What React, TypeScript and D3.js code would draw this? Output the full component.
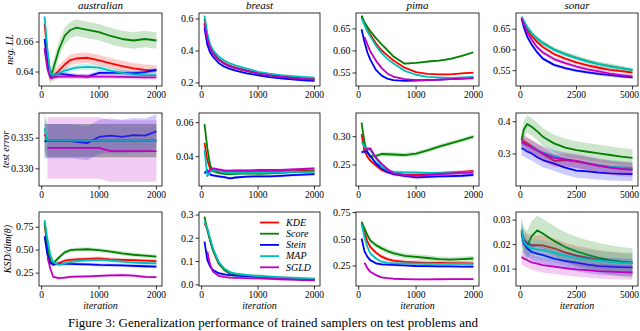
import React from 'react'
import * as d3 from 'd3'

// series order: KDE, Score, Stein, MAP, SGLD
const seriesNames = ['KDE', 'Score', 'Stein', 'MAP', 'SGLD']
const seriesColors = ['#ff0000', '#008000', '#0000ff', '#00bfbf', '#bf00bf']
const datasets = ['australian', 'breast', 'pima', 'sonar']
const metrics = ['neg. LL', 'test error', 'KSD/dim(θ)']

const iters2k = [50, 100, 150, 200, 300, 400, 500, 600, 800, 1000, 1200, 1400, 1600, 1800, 2000]
const iters5k = [50, 150, 300, 500, 750, 1000, 1500, 2000, 2500, 3000, 3500, 4000, 4500, 5000]
const xLim2k = [-47.5, 2097.5]
const xLim5k = [-197.5, 5247.5]
const xTicks2k = [0, 1000, 2000]
const xTicks5k = [0, 2500, 5000]

// ---- neg. LL
const ausLL = [
  [0.672, 0.652, 0.639, 0.637, 0.641, 0.645, 0.648, 0.6490, 0.6495, 0.6478, 0.6458, 0.6440, 0.6425, 0.6415, 0.641],
  [0.655, 0.645, 0.637, 0.642, 0.655, 0.664, 0.668, 0.6695, 0.668, 0.6665, 0.664, 0.662, 0.661, 0.662, 0.661],
  [0.662, 0.646, 0.6375, 0.6375, 0.639, 0.6385, 0.638, 0.6375, 0.637, 0.6395, 0.6395, 0.6395, 0.6392, 0.640, 0.6415],
  [0.677, 0.655, 0.639, 0.6375, 0.639, 0.641, 0.642, 0.643, 0.6435, 0.643, 0.641, 0.6395, 0.6385, 0.638, 0.638],
  [0.656, 0.642, 0.636, 0.6365, 0.637, 0.637, 0.637, 0.637, 0.637, 0.637, 0.637, 0.6368, 0.6366, 0.6365, 0.6365],
]
const ausLLSpread = [0.0035, 0.0055, 0.0015, 0.002, 0.0015]
const ausLLLim = [0.6307, 0.6793]
const ausLLTicks = [0.64, 0.66]

const breastLL = [
  [0.6, 0.49, 0.425, 0.39, 0.35, 0.325, 0.308, 0.296, 0.278, 0.262, 0.25, 0.241, 0.235, 0.229, 0.226],
  [0.575, 0.48, 0.42, 0.385, 0.345, 0.32, 0.304, 0.292, 0.274, 0.259, 0.248, 0.239, 0.232, 0.227, 0.223],
  [0.543, 0.44, 0.39, 0.364, 0.325, 0.302, 0.288, 0.277, 0.26, 0.248, 0.237, 0.229, 0.222, 0.217, 0.213],
  [0.621, 0.51, 0.44, 0.406, 0.365, 0.34, 0.322, 0.31, 0.29, 0.27, 0.258, 0.249, 0.243, 0.238, 0.234],
  [0.57, 0.475, 0.42, 0.385, 0.345, 0.32, 0.305, 0.293, 0.275, 0.26, 0.248, 0.239, 0.232, 0.226, 0.221],
]
const breastLLSpread = [0.005, 0.005, 0.005, 0.006, 0.005]
const breastLLLim = [0.181, 0.6375]
const breastLLTicks = [0.2, 0.4, 0.6]

const pimaLL = [
  [0.677, 0.662, 0.648, 0.637, 0.617, 0.601, 0.59, 0.579, 0.562, 0.552, 0.548, 0.547, 0.547, 0.549, 0.551],
  [0.68, 0.665, 0.655, 0.645, 0.629, 0.615, 0.602, 0.588, 0.571, 0.573, 0.576, 0.578, 0.582, 0.589, 0.597],
  [0.649, 0.62, 0.597, 0.581, 0.557, 0.544, 0.537, 0.534, 0.532, 0.533, 0.534, 0.535, 0.536, 0.537, 0.539],
  [0.674, 0.659, 0.645, 0.633, 0.612, 0.595, 0.582, 0.572, 0.555, 0.546, 0.541, 0.54, 0.539, 0.54, 0.541],
  [null, 0.632, 0.615, 0.6, 0.578, 0.561, 0.549, 0.542, 0.536, 0.534, 0.534, 0.535, 0.536, 0.537, 0.538],
]
const pimaLLSpread = [0.0015, 0.002, 0.0012, 0.0015, 0.0012]
const pimaLLLim = [0.5205, 0.686]
const pimaLLTicks = [0.55, 0.6, 0.65]

const sonarLL = [
  [0.678, 0.666, 0.65, 0.634, 0.619, 0.607, 0.59, 0.579, 0.57, 0.563, 0.557, 0.552, 0.549, 0.545],
  [0.679, 0.669, 0.654, 0.64, 0.627, 0.617, 0.601, 0.59, 0.581, 0.573, 0.566, 0.561, 0.556, 0.551],
  [0.675, 0.655, 0.632, 0.613, 0.594, 0.579, 0.564, 0.556, 0.55, 0.546, 0.542, 0.539, 0.536, 0.534],
  [0.68, 0.67, 0.655, 0.64, 0.627, 0.616, 0.6, 0.589, 0.58, 0.572, 0.566, 0.56, 0.556, 0.552],
  [0.677, 0.662, 0.642, 0.625, 0.606, 0.594, 0.578, 0.568, 0.56, 0.553, 0.548, 0.543, 0.539, 0.536],
]
const sonarLLSpread = [0.004, 0.006, 0.004, 0.004, 0.005]
const sonarLLLim = [0.513, 0.689]
const sonarLLTicks = [0.55, 0.6, 0.65]

// ---- test error
const ausErr = [
  [0.3357, 0.3346, 0.3346, 0.3346, 0.3346, 0.3346, 0.3346, 0.3346, 0.3346, 0.3346, 0.3346, 0.3346, 0.3346, 0.3346, 0.3346],
  [0.3346, 0.3346, 0.3346, 0.3346, 0.3346, 0.3346, 0.3346, 0.3346, 0.3346, 0.3346, 0.3346, 0.3346, 0.3346, 0.3346, 0.3346],
  [0.3345, 0.3345, 0.3345, 0.3345, 0.3345, 0.3345, 0.3345, 0.3344, 0.3342, 0.3352, 0.3354, 0.3352, 0.3355, 0.3354, 0.3361],
  [0.3366, 0.3346, 0.3346, 0.3346, 0.3346, 0.3346, 0.3346, 0.3346, 0.3346, 0.3346, 0.3346, 0.3346, 0.3346, 0.3346, 0.3346],
  [null, 0.3334, 0.3334, 0.3334, 0.3334, 0.3334, 0.3334, 0.3334, 0.3334, 0.3334, 0.3329, 0.3329, 0.3329, 0.3329, 0.3329],
]
const ausErrSpread = [0.0027, 0.0027, 0.0028, 0.0027, 0.005]
const ausErrLim = [0.3272, 0.3391]
const ausErrTicks = [0.33, 0.335]

const breastErr = [
  [0.0482, 0.038, 0.033, 0.032, 0.0315, 0.0312, 0.031, 0.031, 0.0312, 0.0312, 0.0313, 0.0315, 0.0316, 0.0318, 0.032],
  [0.0592, 0.045, 0.035, 0.0315, 0.0305, 0.03, 0.0298, 0.03, 0.0302, 0.03, 0.0302, 0.0305, 0.031, 0.0312, 0.0314],
  [0.0302, 0.0322, 0.0295, 0.029, 0.0285, 0.028, 0.0273, 0.0278, 0.0283, 0.0285, 0.0285, 0.0288, 0.0292, 0.0295, 0.0298],
  [0.0439, 0.0286, 0.031, 0.0322, 0.0315, 0.0308, 0.0305, 0.0305, 0.0306, 0.0306, 0.0307, 0.0308, 0.0312, 0.031, 0.0312],
  [null, 0.031, 0.0322, 0.0331, 0.0325, 0.032, 0.0318, 0.032, 0.032, 0.0322, 0.0322, 0.0322, 0.0325, 0.0328, 0.0331],
]
const breastErrSpread = [0.0008, 0.0009, 0.0008, 0.0008, 0.0008]
const breastErrLim = [0.0228, 0.0657]
const breastErrTicks = [0.04, 0.06]

const pimaErr = [
  [0.3047, 0.275, 0.2647, 0.258, 0.249, 0.2412, 0.237, 0.235, 0.2324, 0.233, 0.234, 0.235, 0.2365, 0.238, 0.2395],
  [0.3247, 0.29, 0.272, 0.265, 0.266, 0.2694, 0.269, 0.2685, 0.2676, 0.27, 0.276, 0.2824, 0.2882, 0.294, 0.3],
  [0.2724, 0.274, 0.2735, 0.266, 0.253, 0.244, 0.238, 0.234, 0.2306, 0.2282, 0.229, 0.23, 0.2305, 0.231, 0.2324],
  [0.291, 0.283, 0.279, 0.2765, 0.262, 0.247, 0.241, 0.238, 0.237, 0.237, 0.236, 0.236, 0.237, 0.237, 0.238],
  [null, 0.2765, 0.278, 0.2794, 0.263, 0.252, 0.243, 0.2353, 0.232, 0.2306, 0.232, 0.234, 0.235, 0.236, 0.2365],
]
const pimaErrSpread = [0.003, 0.004, 0.003, 0.003, 0.003]
const pimaErrLim = [0.2129, 0.3418]
const pimaErrTicks = [0.25, 0.3]

const sonarErr = [
  [0.345, 0.34, 0.333, 0.325, 0.313, 0.3, 0.279, 0.281, 0.276, 0.27, 0.263, 0.259, 0.256, 0.2535],
  [0.343, 0.375, 0.3928, 0.3845, 0.37, 0.3536, 0.333, 0.32, 0.3124, 0.307, 0.302, 0.297, 0.292, 0.288],
  [0.3175, 0.315, 0.308, 0.302, 0.29, 0.2814, 0.27, 0.258, 0.2484, 0.246, 0.2423, 0.24, 0.239, 0.2381],
  [0.333, 0.331, 0.327, 0.3227, 0.313, 0.305, 0.294, 0.285, 0.278, 0.272, 0.266, 0.262, 0.259, 0.257],
  [0.338, 0.333, 0.328, 0.32, 0.31, 0.302, 0.288, 0.283, 0.279, 0.271, 0.264, 0.258, 0.253, 0.251],
]
const sonarErrSpread = [0.02, 0.027, 0.022, 0.02, 0.022]
const sonarErrLim = [0.201, 0.427]
const sonarErrTicks = [0.3, 0.4]

// ---- KSD/dim
const ausKSD = [
  [0.78, 0.55, 0.38, 0.34, 0.36, 0.385, 0.395, 0.4, 0.405, 0.41, 0.4, 0.395, 0.39, 0.385, 0.38],
  [0.8, 0.55, 0.38, 0.356, 0.42, 0.475, 0.5, 0.505, 0.51, 0.5, 0.485, 0.465, 0.45, 0.44, 0.43],
  [0.65, 0.45, 0.357, 0.35, 0.35, 0.35, 0.35, 0.348, 0.345, 0.34, 0.338, 0.335, 0.33, 0.325, 0.32],
  [0.827, 0.62, 0.45, 0.37, 0.34, 0.355, 0.37, 0.38, 0.39, 0.394, 0.385, 0.375, 0.365, 0.36, 0.357],
  [null, 0.42, 0.3, 0.21, 0.195, 0.2, 0.21, 0.212, 0.215, 0.22, 0.225, 0.228, 0.222, 0.21, 0.206],
]
const ausKSDSpread = [0.02, 0.022, 0.018, 0.018, 0.015]
const ausKSDLim = [0.11, 0.915]
const ausKSDTicks = [0.25, 0.5, 0.75]

const breastKSD = [
  [0.264, 0.24, 0.19, 0.148, 0.092, 0.064, 0.05, 0.044, 0.039, 0.035, 0.032, 0.03, 0.028, 0.026, 0.024],
  [0.293, 0.236, 0.19, 0.15, 0.093, 0.065, 0.05, 0.045, 0.04, 0.036, 0.033, 0.03, 0.028, 0.026, 0.024],
  [0.186, 0.107, 0.078, 0.064, 0.05, 0.045, 0.042, 0.04, 0.038, 0.036, 0.033, 0.03, 0.027, 0.024, 0.021],
  [0.271, 0.243, 0.2, 0.157, 0.1, 0.07, 0.055, 0.048, 0.042, 0.038, 0.035, 0.032, 0.03, 0.028, 0.026],
  [null, 0.143, 0.086, 0.057, 0.039, 0.034, 0.031, 0.03, 0.029, 0.028, 0.026, 0.024, 0.022, 0.02, 0.019],
]
const breastKSDSpread = [0.006, 0.008, 0.005, 0.006, 0.005]
const breastKSDLim = [-0.005, 0.313]
const breastKSDTicks = [0, 0.1, 0.2, 0.3]

const pimaKSD = [
  [0.648, 0.56, 0.48, 0.43, 0.375, 0.337, 0.315, 0.3, 0.288, 0.284, 0.28, 0.278, 0.277, 0.276, 0.275],
  [0.663, 0.6, 0.54, 0.49, 0.445, 0.415, 0.39, 0.37, 0.345, 0.335, 0.325, 0.315, 0.31, 0.315, 0.32],
  [0.507, 0.39, 0.337, 0.305, 0.275, 0.265, 0.262, 0.26, 0.255, 0.25, 0.248, 0.247, 0.246, 0.245, 0.244],
  [0.64, 0.52, 0.43, 0.37, 0.32, 0.29, 0.28, 0.276, 0.274, 0.272, 0.271, 0.27, 0.27, 0.27, 0.27],
  [null, 0.281, 0.23, 0.197, 0.165, 0.144, 0.136, 0.131, 0.128, 0.125, 0.125, 0.126, 0.127, 0.128, 0.128],
]
const pimaKSDSpread = [0.02, 0.025, 0.012, 0.012, 0.008]
const pimaKSDLim = [0.063, 0.755]
const pimaKSDTicks = [0.25, 0.5, 0.75]

const sonarKSD = [
  [0.0252, 0.022, 0.0205, 0.0197, 0.0198, 0.0197, 0.0185, 0.0168, 0.0155, 0.0146, 0.0138, 0.0132, 0.0128, 0.0126],
  [0.0255, 0.021, 0.0195, 0.0235, 0.0258, 0.0245, 0.0215, 0.019, 0.0172, 0.0158, 0.0146, 0.0137, 0.013, 0.0125],
  [0.0246, 0.0205, 0.0185, 0.017, 0.0163, 0.0157, 0.0143, 0.0133, 0.0126, 0.0118, 0.0112, 0.011, 0.0108, 0.0107],
  [0.0262, 0.021, 0.0195, 0.0184, 0.018, 0.0177, 0.0166, 0.0155, 0.0146, 0.014, 0.0134, 0.013, 0.0126, 0.0123],
  [0.015, 0.0143, 0.0137, 0.0127, 0.0122, 0.0116, 0.011, 0.0104, 0.0099, 0.0096, 0.0092, 0.009, 0.0088, 0.0086],
]
const sonarKSDSpread = [0.004, 0.006, 0.0035, 0.004, 0.003]
const sonarKSDLim = [0.0031, 0.0333]
const sonarKSDTicks = [0.01, 0.02, 0.03]

const caption = 'Figure 3: Generalization performance of trained samplers on test problems and'

// panel grid (pixels)
const colLeft = [39, 199, 356, 516]
const colRight = [162, 320, 479, 638]
const rowTop = [13, 113, 212]
const rowBottom = [86, 186, 286]

type Panel = {
  x: number[]; mean: (number | null)[][]; spread: number[]
  xLim: number[]; yLim: number[]; xTicks: number[]; yTicks: number[]; fmt: string
}

const panels: Panel[][] = [
  [
    { x: iters2k, mean: ausLL, spread: ausLLSpread, xLim: xLim2k, yLim: ausLLLim, xTicks: xTicks2k, yTicks: ausLLTicks, fmt: '.2f' },
    { x: iters2k, mean: breastLL, spread: breastLLSpread, xLim: xLim2k, yLim: breastLLLim, xTicks: xTicks2k, yTicks: breastLLTicks, fmt: '.1f' },
    { x: iters2k, mean: pimaLL, spread: pimaLLSpread, xLim: xLim2k, yLim: pimaLLLim, xTicks: xTicks2k, yTicks: pimaLLTicks, fmt: '.2f' },
    { x: iters5k, mean: sonarLL, spread: sonarLLSpread, xLim: xLim5k, yLim: sonarLLLim, xTicks: xTicks5k, yTicks: sonarLLTicks, fmt: '.2f' },
  ],
  [
    { x: iters2k, mean: ausErr, spread: ausErrSpread, xLim: xLim2k, yLim: ausErrLim, xTicks: xTicks2k, yTicks: ausErrTicks, fmt: '.3f' },
    { x: iters2k, mean: breastErr, spread: breastErrSpread, xLim: xLim2k, yLim: breastErrLim, xTicks: xTicks2k, yTicks: breastErrTicks, fmt: '.2f' },
    { x: iters2k, mean: pimaErr, spread: pimaErrSpread, xLim: xLim2k, yLim: pimaErrLim, xTicks: xTicks2k, yTicks: pimaErrTicks, fmt: '.2f' },
    { x: iters5k, mean: sonarErr, spread: sonarErrSpread, xLim: xLim5k, yLim: sonarErrLim, xTicks: xTicks5k, yTicks: sonarErrTicks, fmt: '.1f' },
  ],
  [
    { x: iters2k, mean: ausKSD, spread: ausKSDSpread, xLim: xLim2k, yLim: ausKSDLim, xTicks: xTicks2k, yTicks: ausKSDTicks, fmt: '.2f' },
    { x: iters2k, mean: breastKSD, spread: breastKSDSpread, xLim: xLim2k, yLim: breastKSDLim, xTicks: xTicks2k, yTicks: breastKSDTicks, fmt: '.1f' },
    { x: iters2k, mean: pimaKSD, spread: pimaKSDSpread, xLim: xLim2k, yLim: pimaKSDLim, xTicks: xTicks2k, yTicks: pimaKSDTicks, fmt: '.2f' },
    { x: iters5k, mean: sonarKSD, spread: sonarKSDSpread, xLim: xLim5k, yLim: sonarKSDLim, xTicks: xTicks5k, yTicks: sonarKSDTicks, fmt: '.2f' },
  ],
]

const font = '"Liberation Serif", "DejaVu Serif", serif'
const ylabelX = [10, 6, 8]

function PanelView({ p, r, c }: { p: Panel; r: number; c: number }) {
  const x0 = colLeft[c], x1 = colRight[c], y0 = rowTop[r], y1 = rowBottom[r]
  const xs = d3.scaleLinear().domain(p.xLim).range([x0, x1])
  const ys = d3.scaleLinear().domain(p.yLim).range([y1, y0])
  const fmt = d3.format(p.fmt)
  const clipId = `clip-${r}-${c}`

  return (
    <g>
      <defs>
        <clipPath id={clipId}>
          <rect x={x0} y={y0} width={x1 - x0} height={y1 - y0} />
        </clipPath>
      </defs>
      <g clipPath={`url(#${clipId})`}>
        {p.mean.map((vals, si) => {
          const pts = p.x.map((x, i) => ({ x, v: vals[i] }))
          const area = d3.area<{ x: number; v: number | null }>()
            .defined(d => d.v != null)
            .x(d => xs(d.x))
            .y0(d => ys((d.v as number) - p.spread[si]))
            .y1(d => ys((d.v as number) + p.spread[si]))
          const line = d3.line<{ x: number; v: number | null }>()
            .defined(d => d.v != null)
            .x(d => xs(d.x))
            .y(d => ys(d.v as number))
          return (
            <g key={si}>
              <path d={area(pts) || ''} fill={seriesColors[si]} fillOpacity={0.2} stroke="none" />
              <path d={line(pts) || ''} fill="none" stroke={seriesColors[si]} strokeWidth={1.8} strokeLinejoin="round" />
            </g>
          )
        })}
      </g>
      <rect x={x0} y={y0} width={x1 - x0} height={y1 - y0} fill="none" stroke="#000" strokeWidth={0.8} />
      {p.xTicks.map(t => (
        <g key={'x' + t}>
          <line x1={xs(t)} x2={xs(t)} y1={y1} y2={y1 + 3.5} stroke="#000" strokeWidth={0.8} />
          <text x={Math.min(xs(t), 629.5)} y={y1 + 12} textAnchor="middle" fontSize={9.5} fontFamily={font}>{t}</text>
        </g>
      ))}
      {p.yTicks.map(t => (
        <g key={'y' + t}>
          <line x1={x0} x2={x0 - 3.5} y1={ys(t)} y2={ys(t)} stroke="#000" strokeWidth={0.8} />
          <text x={x0 - 5.5} y={ys(t)} dy="0.33em" textAnchor="end" fontSize={10} fontFamily={font}>{fmt(t)}</text>
        </g>
      ))}
      {r === 0 && (
        <text x={(x0 + x1) / 2} y={y0 - 4} textAnchor="middle" fontSize={11} fontStyle="italic" fontFamily={font}>{datasets[c]}</text>
      )}
      {r === 2 && (
        <text x={(x0 + x1) / 2} y={y1 + 23} textAnchor="middle" fontSize={10} fontStyle="italic" fontFamily={font}>iteration</text>
      )}
      {c === 0 && (
        <text transform={`translate(${ylabelX[r]},${(y0 + y1) / 2}) rotate(-90)`} dy="0.33em" textAnchor="middle" fontSize={10} fontStyle="italic" fontFamily={font}>{metrics[r]}</text>
      )}
    </g>
  )
}

function Legend() {
  const lx = 260, ly = 222.5, step = 11.2
  return (
    <g>
      {seriesNames.map((n, i) => (
        <g key={n}>
          <line x1={lx} x2={lx + 19} y1={ly + i * step} y2={ly + i * step} stroke={seriesColors[i]} strokeWidth={1.8} />
          <text x={lx + 26} y={ly + i * step} dy="0.33em" fontSize={10} fontStyle="italic" fontFamily={font}>{n}</text>
        </g>
      ))}
    </g>
  )
}

export default function App() {
  return (
    <svg width={640} height={331} style={{ position: 'absolute', left: 0, top: 0, background: '#fff' }}>
      <rect width={640} height={331} fill="#fff" />
      {panels.map((row, r) => row.map((p, c) => <PanelView key={`${r}-${c}`} p={p} r={r} c={c} />))}
      <Legend />
      <text x={68} y={327} fontSize={13} fontFamily={font}>{caption}</text>
    </svg>
  )
}
